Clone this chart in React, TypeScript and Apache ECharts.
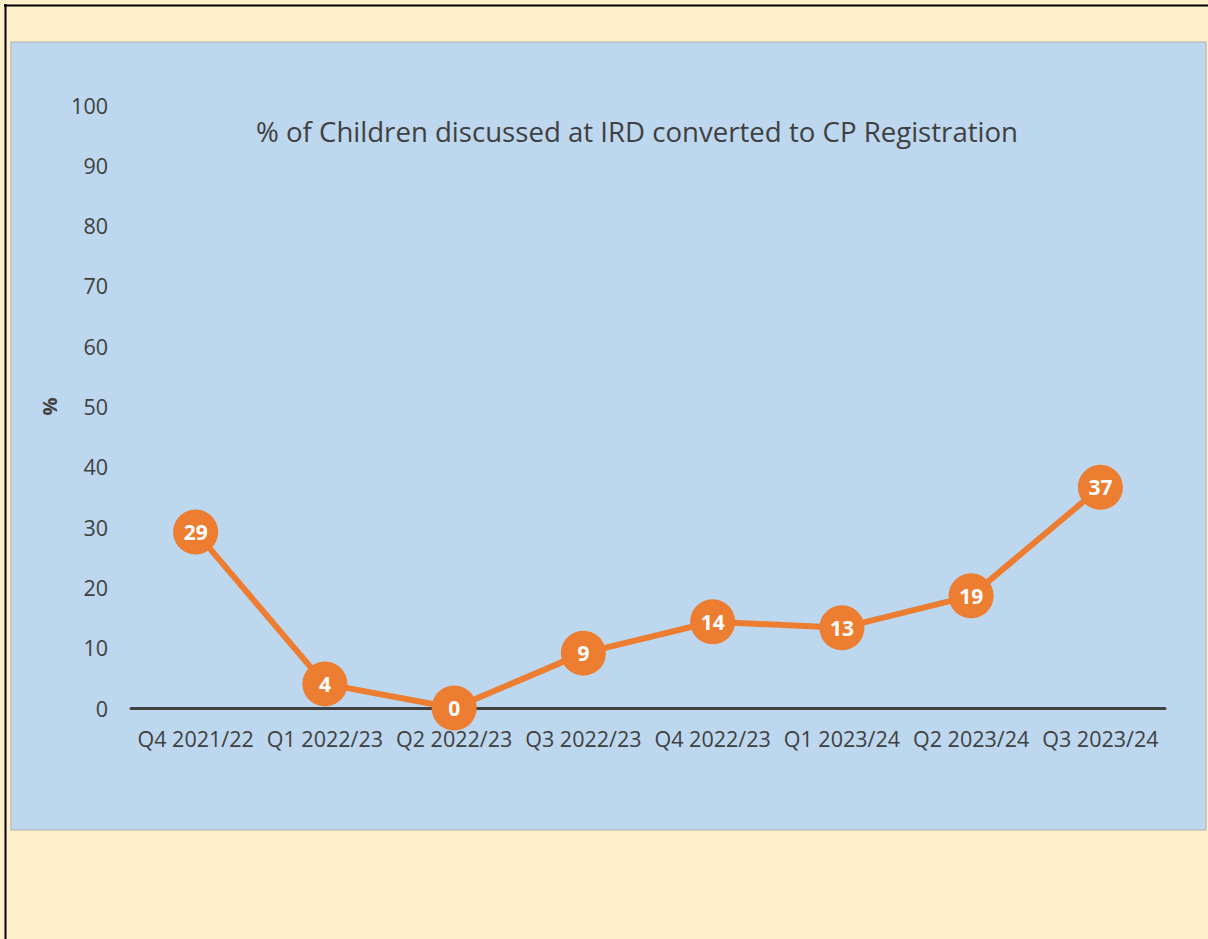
import React, { useEffect, useRef } from "react";
import * as echarts from "echarts";

const categories = [
  "Q4 2021/22",
  "Q1 2022/23",
  "Q2 2022/23",
  "Q3 2022/23",
  "Q4 2022/23",
  "Q1 2023/24",
  "Q2 2023/24",
  "Q3 2023/24",
];
const values = [29.2, 4.0, 0.0, 9.1, 14.3, 13.3, 18.6, 36.6];
const titleText = "% of Children discussed at IRD converted to CP Registration";
const yAxisName = "%";

export default function App() {
  const ref = useRef<HTMLDivElement>(null);
  useEffect(() => {
    if (!ref.current) return;
    const chart = echarts.init(ref.current, null, { renderer: "svg" });
    const font = "'Open Sans', 'Noto Sans', sans-serif";
    chart.setOption({
      animation: false,
      backgroundColor: "#FFF0CC",
      graphic: [
        {
          type: "rect",
          z: -10,
          shape: { x: 11, y: 42, width: 1195, height: 788 },
          style: { fill: "#BDD7EE", stroke: "#C0C0C0", lineWidth: 1.5 },
        },
        {
          type: "line",
          z: 10,
          shape: { x1: 4, y1: 5.5, x2: 1208, y2: 5.5 },
          style: { stroke: "#000", lineWidth: 2 },
        },
        {
          type: "line",
          z: 10,
          shape: { x1: 5.5, y1: 4, x2: 5.5, y2: 939 },
          style: { stroke: "#000", lineWidth: 2 },
        },
        {
          type: "text",
          x: 637,
          y: 131,
          style: {
            text: titleText,
            font: `27.6px ${font}`,
            fill: "#404040",
            align: "center",
            verticalAlign: "middle",
          },
        },
      ],
      grid: { left: 131, right: 43, top: 105, bottom: 231, containLabel: false },
      xAxis: {
        type: "category",
        data: categories,
        boundaryGap: true,
        axisLine: { show: true, lineStyle: { color: "#404040", width: 3 } },
        axisTick: { show: false },
        axisLabel: {
          color: "#404040",
          fontSize: 21.5,
          fontFamily: font,
          margin: 19,
          interval: 0,
        },
        splitLine: { show: false },
      },
      yAxis: {
        type: "value",
        min: 0,
        max: 100,
        interval: 10,
        name: yAxisName,
        nameLocation: "middle",
        nameRotate: 90,
        nameGap: 72,
        nameTextStyle: {
          color: "#404040",
          fontSize: 20,
          fontWeight: "bold",
          fontFamily: font,
        },
        axisLine: { show: false },
        axisTick: { show: false },
        splitLine: { show: false },
        axisLabel: {
          color: "#404040",
          fontSize: 21.5,
          fontFamily: font,
          margin: 23,
        },
      },
      series: [
        {
          type: "line",
          data: values,
          symbol: "circle",
          symbolSize: 45,
          lineStyle: { color: "#ED7D31", width: 6 },
          itemStyle: { color: "#ED7D31" },
          label: {
            show: true,
            position: "inside",
            color: "#fff",
            fontWeight: "bold",
            fontSize: 21,
            fontFamily: font,
            formatter: (p: any) => String(Math.round(p.value)),
          },
          z: 5,
        },
      ],
    });
    return () => chart.dispose();
  }, []);
  return (
    <div
      ref={ref}
      style={{ position: "fixed", left: 0, top: 0, width: 1208, height: 939 }}
    />
  );
}
